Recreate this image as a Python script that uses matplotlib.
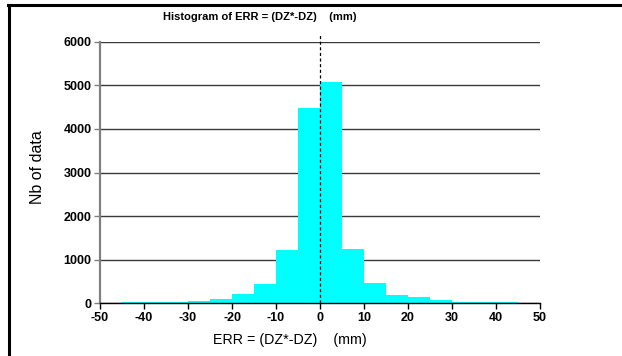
import matplotlib
matplotlib.use("Agg")
import matplotlib.pyplot as plt
from matplotlib.lines import Line2D

# histogram bins (left edges, width 5 mm) and counts
bin_left = [-45, -40, -35, -30, -25, -20, -15, -10, -5, 0, 5, 10, 15, 20, 25, 30, 35, 40]
counts = [22, 22, 25, 46, 92, 208, 446, 1230, 4490, 5070, 1245, 462, 185, 138, 69, 25, 22, 22]
bin_width = 5

x_ticks = [-50, -40, -30, -20, -10, 0, 10, 20, 30, 40, 50]
y_ticks = [0, 1000, 2000, 3000, 4000, 5000, 6000]

plt.rcParams["font.family"] = ["Liberation Sans", "DejaVu Sans"]
plt.rcParams["axes.unicode_minus"] = False

W, H = 622, 356
fig = plt.figure(figsize=(W / 100, H / 100), dpi=100)
ax = fig.add_axes([100 / W, 1 - 303.3 / H, 440 / W, (303.3 - 41.7) / H])

ax.bar(bin_left, counts, width=bin_width, align="edge", color="#00FFFF",
       edgecolor="none", zorder=2)
ax.axvline(0, ymin=0, ymax=1.035, color="black", lw=0.9, ls=(0, (2.5, 2)),
           clip_on=False, zorder=3)

ax.set_xlim(-50, 50)
ax.set_ylim(0, 6000)
ax.set_xticks(x_ticks)
ax.set_yticks(y_ticks)
ax.yaxis.grid(True, color="#3a3a3a", lw=1)
ax.set_axisbelow(True)

for s in ["top", "right"]:
    ax.spines[s].set_visible(False)
ax.spines["left"].set_color("#808080")
ax.spines["left"].set_linewidth(1.6)
ax.spines["bottom"].set_color("black")
ax.spines["bottom"].set_linewidth(1.0)

ax.tick_params(axis="y", length=4, width=1, color="#808080", pad=2)
ax.tick_params(axis="x", length=4, width=1, color="black", pad=2)
for lab in ax.get_xticklabels() + ax.get_yticklabels():
    lab.set_fontweight("bold")
    lab.set_fontsize(9)

fig.text(163 / W, 1 - 17 / H, "Histogram of ERR = (DZ*-DZ)    (mm)",
         fontsize=8, fontweight="bold", ha="left", va="center")
fig.text(213 / W, 1 - 340 / H, "ERR = (DZ*-DZ)    (mm)",
         fontsize=10.3, ha="left", va="center")
fig.text(38 / W, 1 - 167 / H, "Nb of data", fontsize=11.5, rotation=90,
         ha="center", va="center")

# outer frame (top and left only)
fig.add_artist(Line2D([8 / W, 1], [1 - 4.5 / H, 1 - 4.5 / H], color="black",
                      lw=2.2, transform=fig.transFigure))
fig.add_artist(Line2D([8.8 / W, 8.8 / W], [0, 1 - 4.5 / H], color="black",
                      lw=2.2, transform=fig.transFigure))

fig.savefig("out.png", dpi=100)
